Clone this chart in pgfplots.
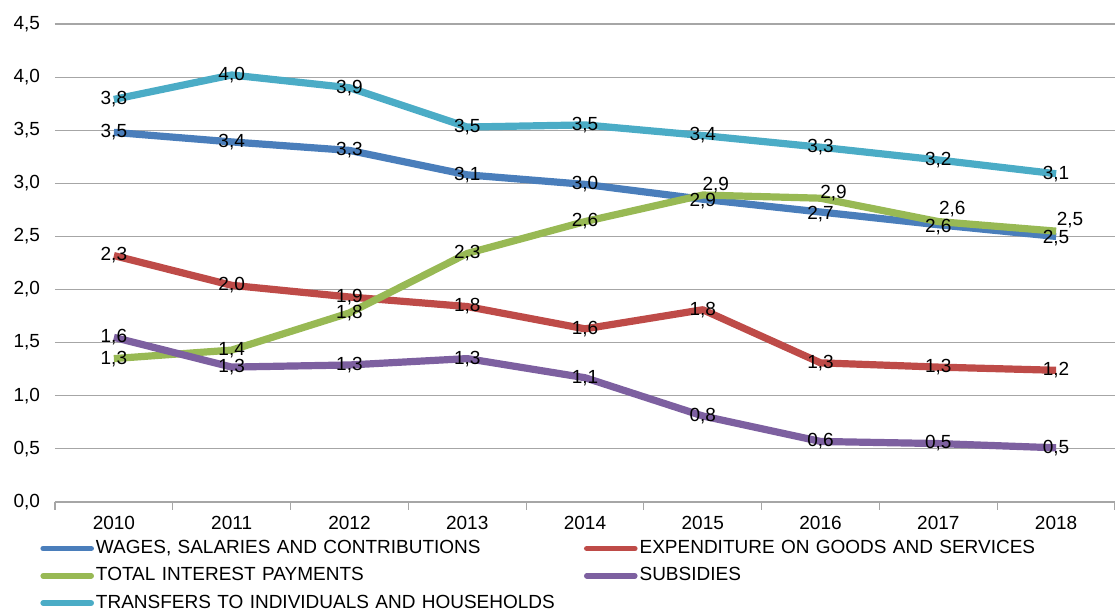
\documentclass[border=0pt]{standalone}
\usepackage{pgfplots}
\pgfplotsset{compat=1.18}
\usepackage{pgfplotstable}
\usepackage{fontspec}
\setmainfont{Liberation Sans}
\definecolor{cblue}{HTML}{4A7EBB}
\definecolor{cred}{HTML}{BE4B48}
\definecolor{cgreen}{HTML}{98B954}
\definecolor{cpurple}{HTML}{7D60A0}
\definecolor{ccyan}{HTML}{4BACC6}
\definecolor{gridgray}{HTML}{A6A6A6}

\pgfplotstableread{
x y lbl dx dy
0 3.48 {3,5} 0 0
1 3.39 {3,4} 0 0
2 3.31 {3,3} 0 0
3 3.08 {3,1} 0 0
4 2.99 {3,0} 0 0
5 2.85 {2,9} 0 -1
6 2.73 {2,7} 0 -1
7 2.61 {2,6} 0 -1
8 2.50 {2,5} 0 -1
}\wages
\pgfplotstableread{
x y lbl dx dy
0 2.32 {2,3} 0 0
1 2.04 {2,0} 0 0
2 1.93 {1,9} 0 0
3 1.84 {1,8} 0 0
4 1.63 {1,6} 0 0
5 1.81 {1,8} 0 0
6 1.31 {1,3} 0 0
7 1.27 {1,3} 0 0
8 1.24 {1,2} 0 0
}\goods
\pgfplotstableread{
x y lbl dx dy
0 1.35 {1,3} 0 0
1 1.43 {1,4} 0 0
2 1.78 {1,8} 0 0
3 2.34 {2,3} 0 0
4 2.64 {2,6} 0 0
5 2.89 {2,9} 6.5 5
6 2.86 {2,9} 6.5 2.5
7 2.64 {2,6} 7 6
8 2.55 {2,5} 7 5.5
}\interest
\pgfplotstableread{
x y lbl dx dy
0 1.55 {1,6} 0 0
1 1.27 {1,3} 0 0
2 1.29 {1,3} 0 0
3 1.35 {1,3} 0 0
4 1.17 {1,1} 0 0
5 0.81 {0,8} 0 0
6 0.57 {0,6} 0 0
7 0.55 {0,5} 0 0
8 0.51 {0,5} 0 0
}\subsidies
\pgfplotstableread{
x y lbl dx dy
0 3.79 {3,8} 0 0
1 4.02 {4,0} 0 0
2 3.90 {3,9} 0 0
3 3.53 {3,5} 0 0
4 3.55 {3,5} 0 0
5 3.45 {3,4} 0 0
6 3.34 {3,3} 0 0
7 3.22 {3,2} 0 0
8 3.09 {3,1} 0 0
}\transfers

\begin{document}
\begin{tikzpicture}
\begin{axis}[
  scale only axis, width=530pt, height=239pt,
  xmin=-0.5, xmax=8.5, ymin=0, ymax=4.5,
  font=\fontsize{9.5}{11}\selectfont,
  /pgf/number format/assume math mode=true,
  xtick={-0.5,0.5,...,8.5}, xticklabels=\empty,
  xtick pos=bottom,
  tick align=outside, major tick length=4pt,
  xtick style={draw=gridgray, line width=0.6pt},
  extra x ticks={0,1,2,3,4,5,6,7,8},
  extra x tick labels={2010,2011,2012,2013,2014,2015,2016,2017,2018},
  extra x tick style={major tick length=0pt, xticklabel style={yshift=-3.5pt}},
  ytick={0,0.5,...,4.5},
  ytick style={draw=none},
  yticklabel style={/pgf/number format/.cd, fixed, fixed zerofill, precision=1, use comma},
  ymajorgrids, grid style={gridgray, line width=0.6pt},
  separate axis lines,
  x axis line style={draw=gridgray, line width=0.6pt},
  y axis line style={draw=none},
  every axis plot/.append style={line width=3.6pt, line join=round, no markers},
  nodes near coords,
  point meta=explicit symbolic,
  visualization depends on={\thisrow{dx}\as\dx},
  visualization depends on={\thisrow{dy}\as\dy},
  every node near coord/.append style={anchor=center, text=black, font=\fontsize{9.5}{11}\selectfont, xshift=\dx pt, yshift=\dy pt, inner sep=0pt},
  legend style={at={(0,0)}, anchor=north west, xshift=-10.5pt, yshift=-16pt, draw=none, fill=none,
    font=\fontsize{9.5}{11}\selectfont, legend columns=2, row sep=3.5pt,
    nodes={text width=243pt, inner sep=1pt, anchor=west}},
  legend cell align=left,
  legend image code/.code={\draw[line width=2.8pt, line cap=round] (0pt,0pt) -- (24pt,0pt);},
]
\addplot[cblue] table[x=x, y=y, meta=lbl] {\wages};
\addlegendentry{WAGES, SALARIES AND CONTRIBUTIONS}
\addplot[cred] table[x=x, y=y, meta=lbl] {\goods};
\addlegendentry{EXPENDITURE ON GOODS AND SERVICES}
\addplot[cgreen] table[x=x, y=y, meta=lbl] {\interest};
\addlegendentry{TOTAL INTEREST PAYMENTS}
\addplot[cpurple] table[x=x, y=y, meta=lbl] {\subsidies};
\addlegendentry{SUBSIDIES}
\addplot[ccyan] table[x=x, y=y, meta=lbl] {\transfers};
\addlegendentry{TRANSFERS TO INDIVIDUALS AND HOUSEHOLDS}
\end{axis}
\pgfresetboundingbox
\path[use as bounding box] (-27.5pt,-54pt) rectangle (530pt,251pt);
\end{tikzpicture}
\end{document}
